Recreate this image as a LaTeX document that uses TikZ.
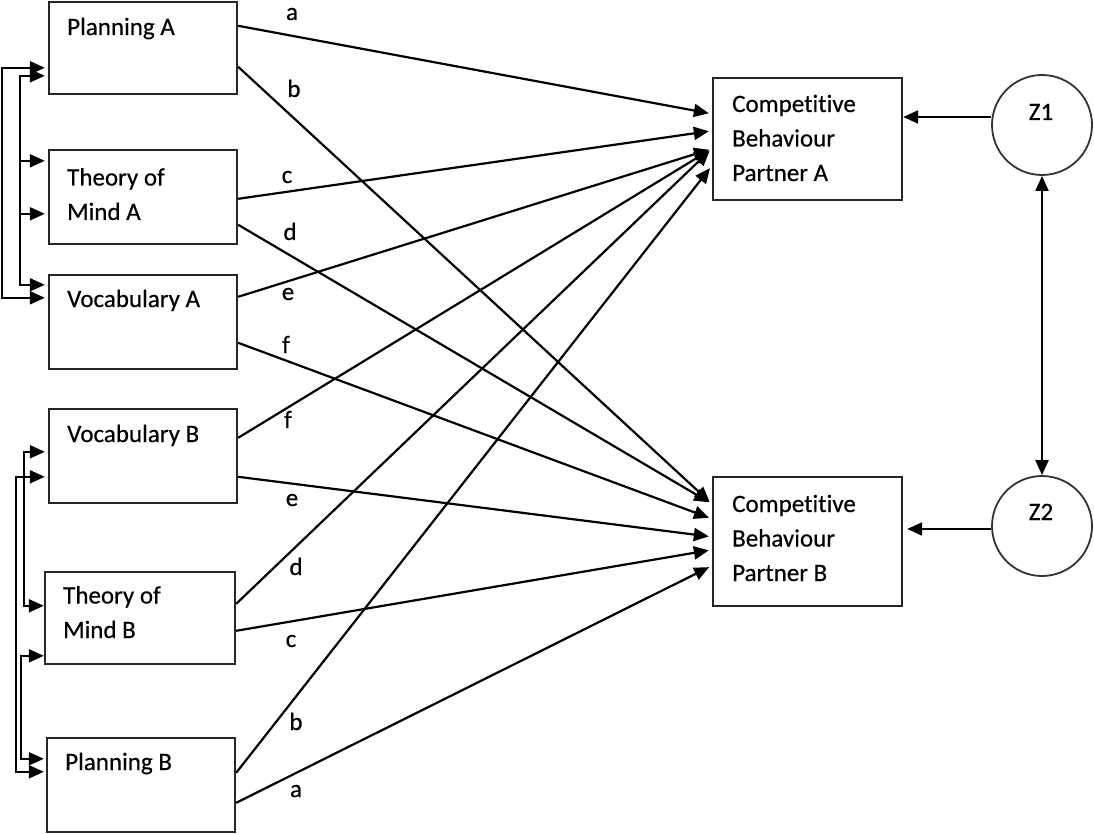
\documentclass[tikz,border=0pt]{standalone}
\usepackage{fontspec}
\setmainfont{Carlito}[FakeBold=0.4,RawFeature={-liga;-clig;-dlig}]
\usetikzlibrary{arrows.meta}
\begin{document}
\begin{tikzpicture}[x=1pt,y=-1pt,
  box/.style={draw=black!85, line width=2.4pt, inner sep=0pt},
  zc/.style={draw=black!80, line width=1.8pt, circle, inner sep=0pt, minimum size=100pt},
  txt/.style={anchor=base west, align=left, inner sep=0pt, text=black, font=\fontsize{25}{34.5}\selectfont},
  lbl/.style={anchor=base, inner sep=0pt, text=black, font=\fontsize{25}{30}\selectfont},
  conn/.style={line width=2.2pt, -{Triangle[length=15pt,width=13pt]}, shorten >=3pt},
  both/.style={line width=2.2pt, {Triangle[length=15pt,width=13pt]}-{Triangle[length=15pt,width=13pt]}}
]
\useasboundingbox (0,0) rectangle (1094,834);

% boxes
\node[box, minimum width=188pt, minimum height=92pt] (PlanA) at (143,48) {};
\node[box, minimum width=188pt, minimum height=94pt] (ToMA) at (143,197) {};
\node[box, minimum width=188pt, minimum height=94pt] (VocA) at (143,322) {};
\node[box, minimum width=188pt, minimum height=94pt] (VocB) at (143,456) {};
\node[box, minimum width=190pt, minimum height=92pt] (ToMB) at (140,618) {};
\node[box, minimum width=188pt, minimum height=94pt] (PlanB) at (141,785) {};
\node[box, minimum width=189pt, minimum height=122pt] (CompA) at (807.5,139) {};
\node[box, minimum width=189pt, minimum height=129pt] (CompB) at (807.5,541.5) {};
\node[zc] (Z1) at (1042,125) {};
\node[zc] (Z2) at (1042,526) {};

% texts (anchor = baseline of the last line)
\node[txt] (tPlanA) at (67,35) {Planning A};
\node[txt] (tToMA) at (67,220) {Theory of\\Mind A};
\node[txt] (tVocA) at (67,307) {Vocabulary A};
\node[txt] (tVocB) at (67,442) {Vocabulary B};
\node[txt] (tToMB) at (63,638) {Theory of\\Mind B};
\node[txt] (tPlanB) at (65,770) {Planning B};
\node[txt] (tCompA) at (732,181) {Competitive\\Behaviour\\Partner A};
\node[txt] (tCompB) at (732,581) {Competitive\\Behaviour\\Partner B};
\node[lbl] (tZ1) at (1041,120) {Z1};
\node[lbl] (tZ2) at (1041,520) {Z2};

% path labels
\node[lbl] (la1) at (292,20) {a};
\node[lbl] (lb1) at (294,97) {b};
\node[lbl] (lc1) at (287,183) {c};
\node[lbl] (ld1) at (290,240) {d};
\node[lbl] (le1) at (288,300) {e};
\node[lbl] (lf1) at (286,353) {f};
\node[lbl] (lf2) at (288,428) {f};
\node[lbl] (le2) at (292,506) {e};
\node[lbl] (ld2) at (296,575) {d};
\node[lbl] (lc2) at (291,647) {c};
\node[lbl] (lb2) at (296,730) {b};
\node[lbl] (la2) at (296,797) {a};

% paths to Competitive Behaviour Partner A
\draw[conn] ([yshift=-25pt]PlanA.north east) -- ([yshift=-37pt]CompA.north west);
\draw[conn] ([yshift=-50pt]ToMA.north east) -- ([yshift=-54pt]CompA.north west);
\draw[conn] ([yshift=-23pt]VocA.north east) -- ([yshift=-72pt]CompA.north west);
\draw[conn] ([yshift=-30pt]VocB.north east) -- ([yshift=-72pt]CompA.north west);
\draw[conn] ([yshift=-33pt]ToMB.north east) -- ([yshift=-72pt]CompA.north west);
\draw[conn] ([yshift=-36pt]PlanB.north east) -- ([yshift=-89pt]CompA.north west);

% paths to Competitive Behaviour Partner B
\draw[conn] ([yshift=-66pt]PlanA.north east) -- ([yshift=-28pt]CompB.north west);
\draw[conn] ([yshift=-76pt]ToMA.north east) -- ([yshift=-28pt]CompB.north west);
\draw[conn] ([yshift=-69pt]VocA.north east) -- ([yshift=-43pt]CompB.north west);
\draw[conn] ([yshift=-69pt]VocB.north east) -- ([yshift=-61pt]CompB.north west);
\draw[conn] ([yshift=-60pt]ToMB.north east) -- ([yshift=-74pt]CompB.north west);
\draw[conn] ([yshift=-66pt]PlanB.north east) -- ([yshift=-90pt]CompB.north west);

% residuals
\draw[conn, shorten >=0pt] ([yshift=8pt]Z1.west) -- ([yshift=22pt]CompA.east);
\draw[conn, shorten >=4pt] ([yshift=-3pt]Z2.west) -- ([yshift=12.5pt]CompB.east);
\draw[both] (Z1.south) -- (Z2.north);

% correlations, partner A
\draw[both, shorten <=3pt, shorten >=3pt] ([yshift=-67pt]PlanA.north west) -- ++(-46,0) |- ([yshift=-24pt]VocA.north west);
\draw[both, shorten <=3pt, shorten >=3pt] ([yshift=-75pt]PlanA.north west) -- ++(-28,0) |- ([yshift=-65pt]ToMA.north west);
\draw[both, shorten <=3pt, shorten >=3pt] ([yshift=-12pt]ToMA.north west) -- ++(-28,0) |- ([yshift=-11pt]VocA.north west);

% correlations, partner B
\draw[both, shorten <=3pt, shorten >=2pt] ([yshift=-69pt]VocB.north west) -- ++(-32,0) |- ([yshift=-35pt]PlanB.north west);
\draw[both, shorten <=3pt, shorten >=0pt] ([yshift=-44pt]VocB.north west) -- ++(-24,0) |- ([yshift=-35pt]ToMB.north west);
\draw[both, shorten <=0pt, shorten >=2pt] ([yshift=-85pt]ToMB.north west) -- ++(-23,0) |- ([yshift=-22pt]PlanB.north west);
\end{tikzpicture}
\end{document}
